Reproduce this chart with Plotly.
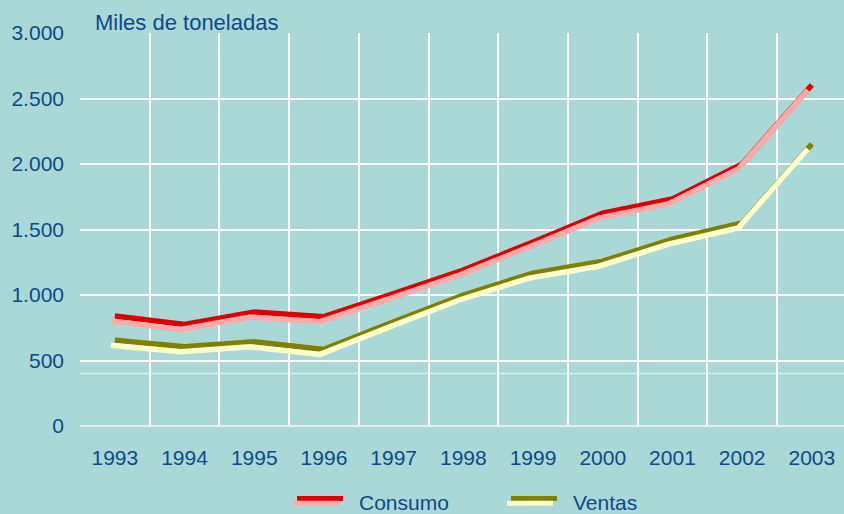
import plotly.graph_objects as go

years = ["1993", "1994", "1995", "1996", "1997", "1998", "1999", "2000", "2001", "2002", "2003"]
consumo = [840, 775, 870, 835, 1010, 1190, 1405, 1625, 1733, 2000, 2603]
ventas = [655, 605, 643, 585, 795, 1000, 1167, 1258, 1426, 1550, 2153]
y_ticks = [0, 500, 1000, 1500, 2000, 2500, 3000]

BG = "#AAD8D6"
TXT = "#0B4A8A"
FONT = "Liberation Sans, Arial, sans-serif"

W, H = 844, 514
ML, MR, MT, MB = 76, 0, 33, 83
PW = W - ML - MR   # 768
PH = H - MT - MB   # 398
DX, DY = 4, 5      # shadow offset in px
CAT = 69.7         # px per category
LW = 5.5

x_range = [-0.5, -0.5 + (PW - DX) / CAT]

fig = go.Figure()

fig.add_trace(go.Scatter(x=years, y=consumo, mode="lines", name="Consumo",
                         line=dict(color="#DD0000", width=LW), xaxis="x", yaxis="y"))
fig.add_trace(go.Scatter(x=years, y=ventas, mode="lines", name="Ventas",
                         line=dict(color="#808000", width=LW), xaxis="x", yaxis="y"))
fig.add_trace(go.Scatter(x=years, y=consumo, mode="lines", showlegend=False,
                         line=dict(color="#FFAAAA", width=LW), xaxis="x2", yaxis="y2"))
fig.add_trace(go.Scatter(x=years, y=ventas, mode="lines", showlegend=False,
                         line=dict(color="#FFFFCC", width=LW), xaxis="x2", yaxis="y2"))

def px_x(p):
    return (p - ML) / PW

def px_y(p):
    return (H - MB - p) / PH

shapes = [
    dict(type="line", xref="paper", yref="y", x0=px_x(80), x1=1, y0=400, y1=400,
         line=dict(color="rgba(255,255,255,0.55)", width=1.5), layer="below"),
    # legend symbols
    dict(type="line", xref="paper", yref="paper", x0=px_x(297), x1=px_x(343),
         y0=px_y(498.5), y1=px_y(498.5), line=dict(color="#DD0000", width=5)),
    dict(type="line", xref="paper", yref="paper", x0=px_x(293), x1=px_x(339),
         y0=px_y(503.3), y1=px_y(503.3), line=dict(color="#FFAAAA", width=5)),
    dict(type="line", xref="paper", yref="paper", x0=px_x(511), x1=px_x(557),
         y0=px_y(498.5), y1=px_y(498.5), line=dict(color="#808000", width=5)),
    dict(type="line", xref="paper", yref="paper", x0=px_x(507), x1=px_x(553),
         y0=px_y(503.3), y1=px_y(503.3), line=dict(color="#FFFFCC", width=5)),
]

annotations = [
    dict(text="Miles de toneladas", xref="paper", yref="paper", x=px_x(93), y=px_y(22),
         xanchor="left", yanchor="middle", showarrow=False, font=dict(size=22, color=TXT)),
    dict(text="Consumo", xref="paper", yref="paper", x=px_x(357), y=px_y(503),
         xanchor="left", yanchor="middle", showarrow=False, font=dict(size=21, color=TXT)),
    dict(text="Ventas", xref="paper", yref="paper", x=px_x(571), y=px_y(503),
         xanchor="left", yanchor="middle", showarrow=False, font=dict(size=21, color=TXT)),
]

fig.update_layout(
    width=W, height=H,
    margin=dict(l=ML, r=MR, t=MT, b=MB, pad=0),
    paper_bgcolor=BG, plot_bgcolor="rgba(0,0,0,0)",
    font=dict(family=FONT, size=21, color=TXT),
    separators=",.",
    showlegend=False,
    shapes=shapes,
    annotations=annotations,
    xaxis=dict(domain=[DX / PW, 1], range=x_range, type="category",
               categoryorder="array", categoryarray=years,
               tickson="boundaries", showgrid=True, gridcolor="white", gridwidth=2,
               ticks="", showline=False, zeroline=False,
               ticklabelstandoff=17, tickfont=dict(size=21, color=TXT),
               fixedrange=True),
    yaxis=dict(domain=[DY / PH, 1], range=[0, 3000], tickvals=y_ticks,
               tickformat=",d", showgrid=True, gridcolor="white", gridwidth=2,
               zeroline=True, zerolinecolor="#E6EEEE", zerolinewidth=2,
               ticks="", showline=False, ticklabelstandoff=15,
               tickfont=dict(size=21, color=TXT), fixedrange=True),
    xaxis2=dict(domain=[0, 1 - DX / PW], range=x_range, type="category",
                categoryorder="array", categoryarray=years,
                anchor="y2", visible=False, showgrid=False, fixedrange=True),
    yaxis2=dict(domain=[0, 1 - DY / PH], range=[0, 3000], anchor="x2",
                visible=False, showgrid=False, fixedrange=True),
)

fig.write_html("out.html", config={"displayModeBar": False},
               post_script="document.body.style.margin='0';document.body.style.overflow='hidden';")
